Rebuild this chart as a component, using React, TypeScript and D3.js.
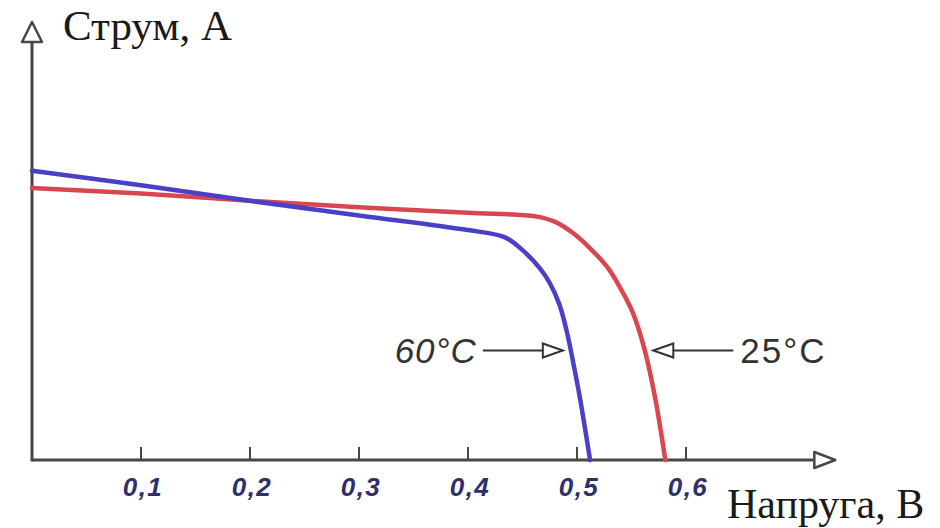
import React from "react";
import * as d3 from "d3";

// I-V curves of a solar cell at two temperatures
const voltage60 = [0, 0.1, 0.2, 0.3, 0.4, 0.434, 0.45, 0.466, 0.475, 0.484, 0.491, 0.496, 0.503, 0.512];
const current60 = [3.17, 3.01, 2.84, 2.68, 2.52, 2.44, 2.3, 2.1, 1.94, 1.7, 1.39, 1.1, 0.66, 0];

const voltage25 = [0, 0.1, 0.2, 0.3, 0.4, 0.462, 0.48, 0.496, 0.512, 0.528, 0.539, 0.551, 0.562, 0.572, 0.581];
const current25 = [2.98, 2.92, 2.84, 2.77, 2.71, 2.67, 2.61, 2.49, 2.32, 2.11, 1.9, 1.62, 1.21, 0.66, 0];

const tickValues = [0.1, 0.2, 0.3, 0.4, 0.5, 0.6];
const tickLabels = ["0,1", "0,2", "0,3", "0,4", "0,5", "0,6"];

const yLabel = "Струм, А";
const xLabel = "Напруга, В";
const label60 = "60°C";
const label25 = "25°C";
// where the callout arrows point: [voltage, current]
const callout60 = [0.487, 1.2];
const callout25 = [0.570, 1.2];

const width = 940;
const height = 528;

export default function App() {
  const x = d3.scaleLinear().domain([0, 0.6]).range([32, 686]);
  const y = d3.scaleLinear().domain([0, 4.8]).range([460, 22]);

  const xEnd = x(0.737);
  const yTop = y(4.8);
  const axisColor = "#474747";

  const line = d3
    .line<[number, number]>()
    .x((d) => x(d[0]))
    .y((d) => y(d[1]))
    .curve(d3.curveCatmullRom.alpha(0.5));

  const pts60 = voltage60.map((v, i) => [v, current60[i]] as [number, number]);
  const pts25 = voltage25.map((v, i) => [v, current25[i]] as [number, number]);

  // open triangle arrowhead, tip at (tx,ty)
  const tri = (tx: number, ty: number, dir: string, len: number, half: number) => {
    if (dir === "right") return `M${tx},${ty} L${tx - len},${ty - half} L${tx - len},${ty + half} Z`;
    if (dir === "left") return `M${tx},${ty} L${tx + len},${ty - half} L${tx + len},${ty + half} Z`;
    return `M${tx},${ty} L${tx - half},${ty + len} L${tx + half},${ty + len} Z`;
  };

  const a60x = x(callout60[0]);
  const a60y = y(callout60[1]);
  const a25x = x(callout25[0]);
  const a25y = y(callout25[1]);

  return (
    <svg
      width={width}
      height={height}
      style={{ position: "absolute", left: 0, top: 0, background: "#fff" }}
    >
      {/* axes */}
      <line x1={x(0)} y1={y(0)} x2={xEnd - 22} y2={y(0)} stroke={axisColor} strokeWidth={3} />
      <line x1={x(0)} y1={y(0) + 1.5} x2={x(0)} y2={yTop + 20} stroke={axisColor} strokeWidth={3} />
      <path d={tri(xEnd, y(0), "right", 21, 8)} fill="#fff" stroke={axisColor} strokeWidth={2.5} strokeLinejoin="round" />
      <path d={tri(x(0), yTop, "up", 20, 10)} fill="#fff" stroke={axisColor} strokeWidth={2.5} strokeLinejoin="round" />

      {/* ticks */}
      {tickValues.map((t, i) => (
        <g key={t}>
          <line x1={x(t)} x2={x(t)} y1={y(0)} y2={y(0) - 13} stroke={axisColor} strokeWidth={2} />
          <text
            x={x(t) + 2}
            y={y(0) + 36}
            textAnchor="middle"
            fontFamily="'Liberation Sans', Arial, sans-serif"
            fontStyle="italic"
            fontWeight="bold"
            fontSize={26}
            letterSpacing={1.5}
            fill="#2e2f6c"
          >
            {tickLabels[i]}
          </text>
        </g>
      ))}

      {/* curves */}
      <path d={line(pts25) || ""} fill="none" stroke="#d9464f" strokeWidth={4.5} strokeLinecap="round" />
      <path d={line(pts60) || ""} fill="none" stroke="#4a40c6" strokeWidth={4.5} strokeLinecap="round" />

      {/* callouts */}
      <line x1={a60x - 80} x2={a60x - 20} y1={a60y} y2={a60y} stroke="#333" strokeWidth={2} />
      <path d={tri(a60x, a60y, "right", 20, 7)} fill="#fff" stroke="#333" strokeWidth={2} />
      <text
        x={a60x - 86}
        y={a60y + 12}
        textAnchor="end"
        fontFamily="'Liberation Sans', Arial, sans-serif"
        fontStyle="italic"
        fontSize={35}
        letterSpacing={1}
        fill="#333"
      >
        {label60}
      </text>

      <line x1={a25x + 20} x2={a25x + 80} y1={a25y} y2={a25y} stroke="#333" strokeWidth={2} />
      <path d={tri(a25x, a25y, "left", 20, 7)} fill="#fff" stroke="#333" strokeWidth={2} />
      <text
        x={a25x + 87}
        y={a25y + 12}
        textAnchor="start"
        fontFamily="'Liberation Sans', Arial, sans-serif"
        fontSize={35}
        letterSpacing={2}
        fill="#333"
      >
        {label25}
      </text>

      {/* axis titles */}
      <text x={63} y={40} fontFamily="'Liberation Serif', 'Times New Roman', serif" fontSize={43} fill="#1a1a1a">
        {yLabel}
      </text>
      <text x={727} y={518} fontFamily="'Liberation Serif', 'Times New Roman', serif" fontSize={42} fill="#1a1a1a">
        {xLabel}
      </text>
    </svg>
  );
}
